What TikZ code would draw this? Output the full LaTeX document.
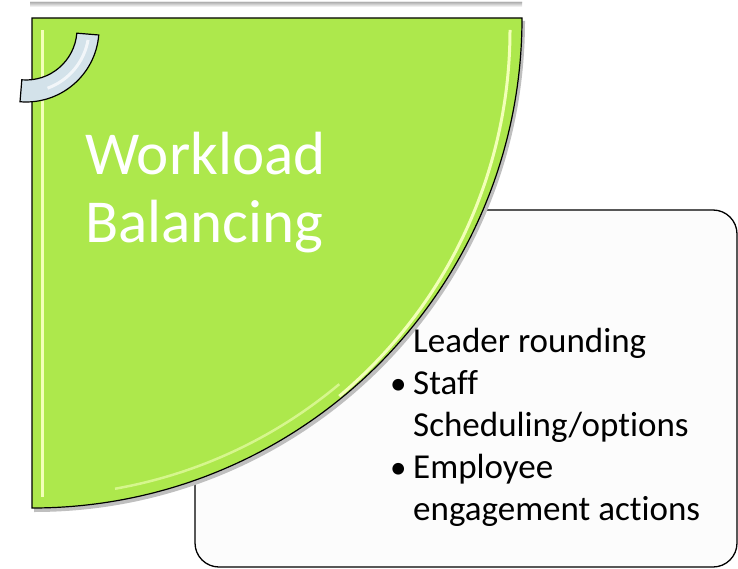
\documentclass[tikz,border=0pt]{standalone}
\usepackage{fontspec}
\setmainfont{Carlito}[RawFeature={-liga}]
\usetikzlibrary{shadows}
\definecolor{wedgegreen}{HTML}{ADE84C}
\definecolor{ringblue}{HTML}{D3E2EA}
\definecolor{bevel}{HTML}{F2FFB8}
\tikzset{
  titletext/.style={anchor=base west, inner sep=0pt, text=white, font=\fontsize{61}{67}\selectfont},
  bodytext/.style={anchor=base west, inner sep=0pt, text=black, font=\fontsize{35}{42}\selectfont},
  bulletdot/.style={anchor=base west, inner sep=0pt, text=black, font=\fontsize{33}{42}\selectfont},
}
\begin{document}
\begin{tikzpicture}[x=1pt,y=-1pt]
\useasboundingbox (0,0) rectangle (738,569);
% top shadow line
\shade[top color=white, bottom color=black!25] (30,0) rectangle (522,3);
\shade[top color=black!25, bottom color=white] (30,3) rectangle (522,7);
% white rounded box
\draw[line width=1.3pt, fill=black!1, rounded corners=24pt] (195,210) rectangle (737,567);
% wedge shadow
\fill[black!25] (34,21) -- (525,21) arc[start angle=0, end angle=-90, radius=491pt] -- cycle;
% green wedge
\draw[line width=1.2pt, fill=wedgegreen] (32,18) -- (522,18) arc[start angle=0, end angle=-90, radius=490pt] -- cycle;
% bevel highlights
\draw[bevel, line width=3pt] (42,30) -- (42,497);
\draw[bevel, line width=3pt] (510,30) arc[start angle=0, end angle=-50, radius=478pt];
\draw[bevel!60!wedgegreen, line width=2.5pt] ([shift={(32,18)}]-50:478pt) arc[start angle=-50, end angle=-80, radius=478pt];
% ring
\draw[line width=1.2pt, fill=ringblue]
  ([shift={(26,29)}]-4.7:73pt) arc[start angle=-4.7, end angle=-94.7, radius=73pt]
  -- ([shift={(26,29)}]-94.7:51pt) arc[start angle=-94.7, end angle=-4.7, radius=51pt] -- cycle;
\draw[white!70!ringblue, line width=3pt] ([shift={(26,29)}]-10:63pt) arc[start angle=-10, end angle=-70, radius=63pt];
% title
\node[titletext] (t1) at (85,175) {Workload};
\node[titletext] (t2) at (85,242) {Balancing};
% body
\node[bodytext] (l1) at (413,352) {Leader rounding};
\node[bulletdot] (b1) at (390,394) {•};
\node[bodytext] (l2) at (413,394) {Staff};
\node[bodytext] (l3) at (413,436) {Scheduling/options};
\node[bulletdot] (b2) at (390,478) {•};
\node[bodytext] (l4) at (413,478) {Employee};
\node[bodytext] (l5) at (413,520) {engagement actions};
\end{tikzpicture}
\end{document}
